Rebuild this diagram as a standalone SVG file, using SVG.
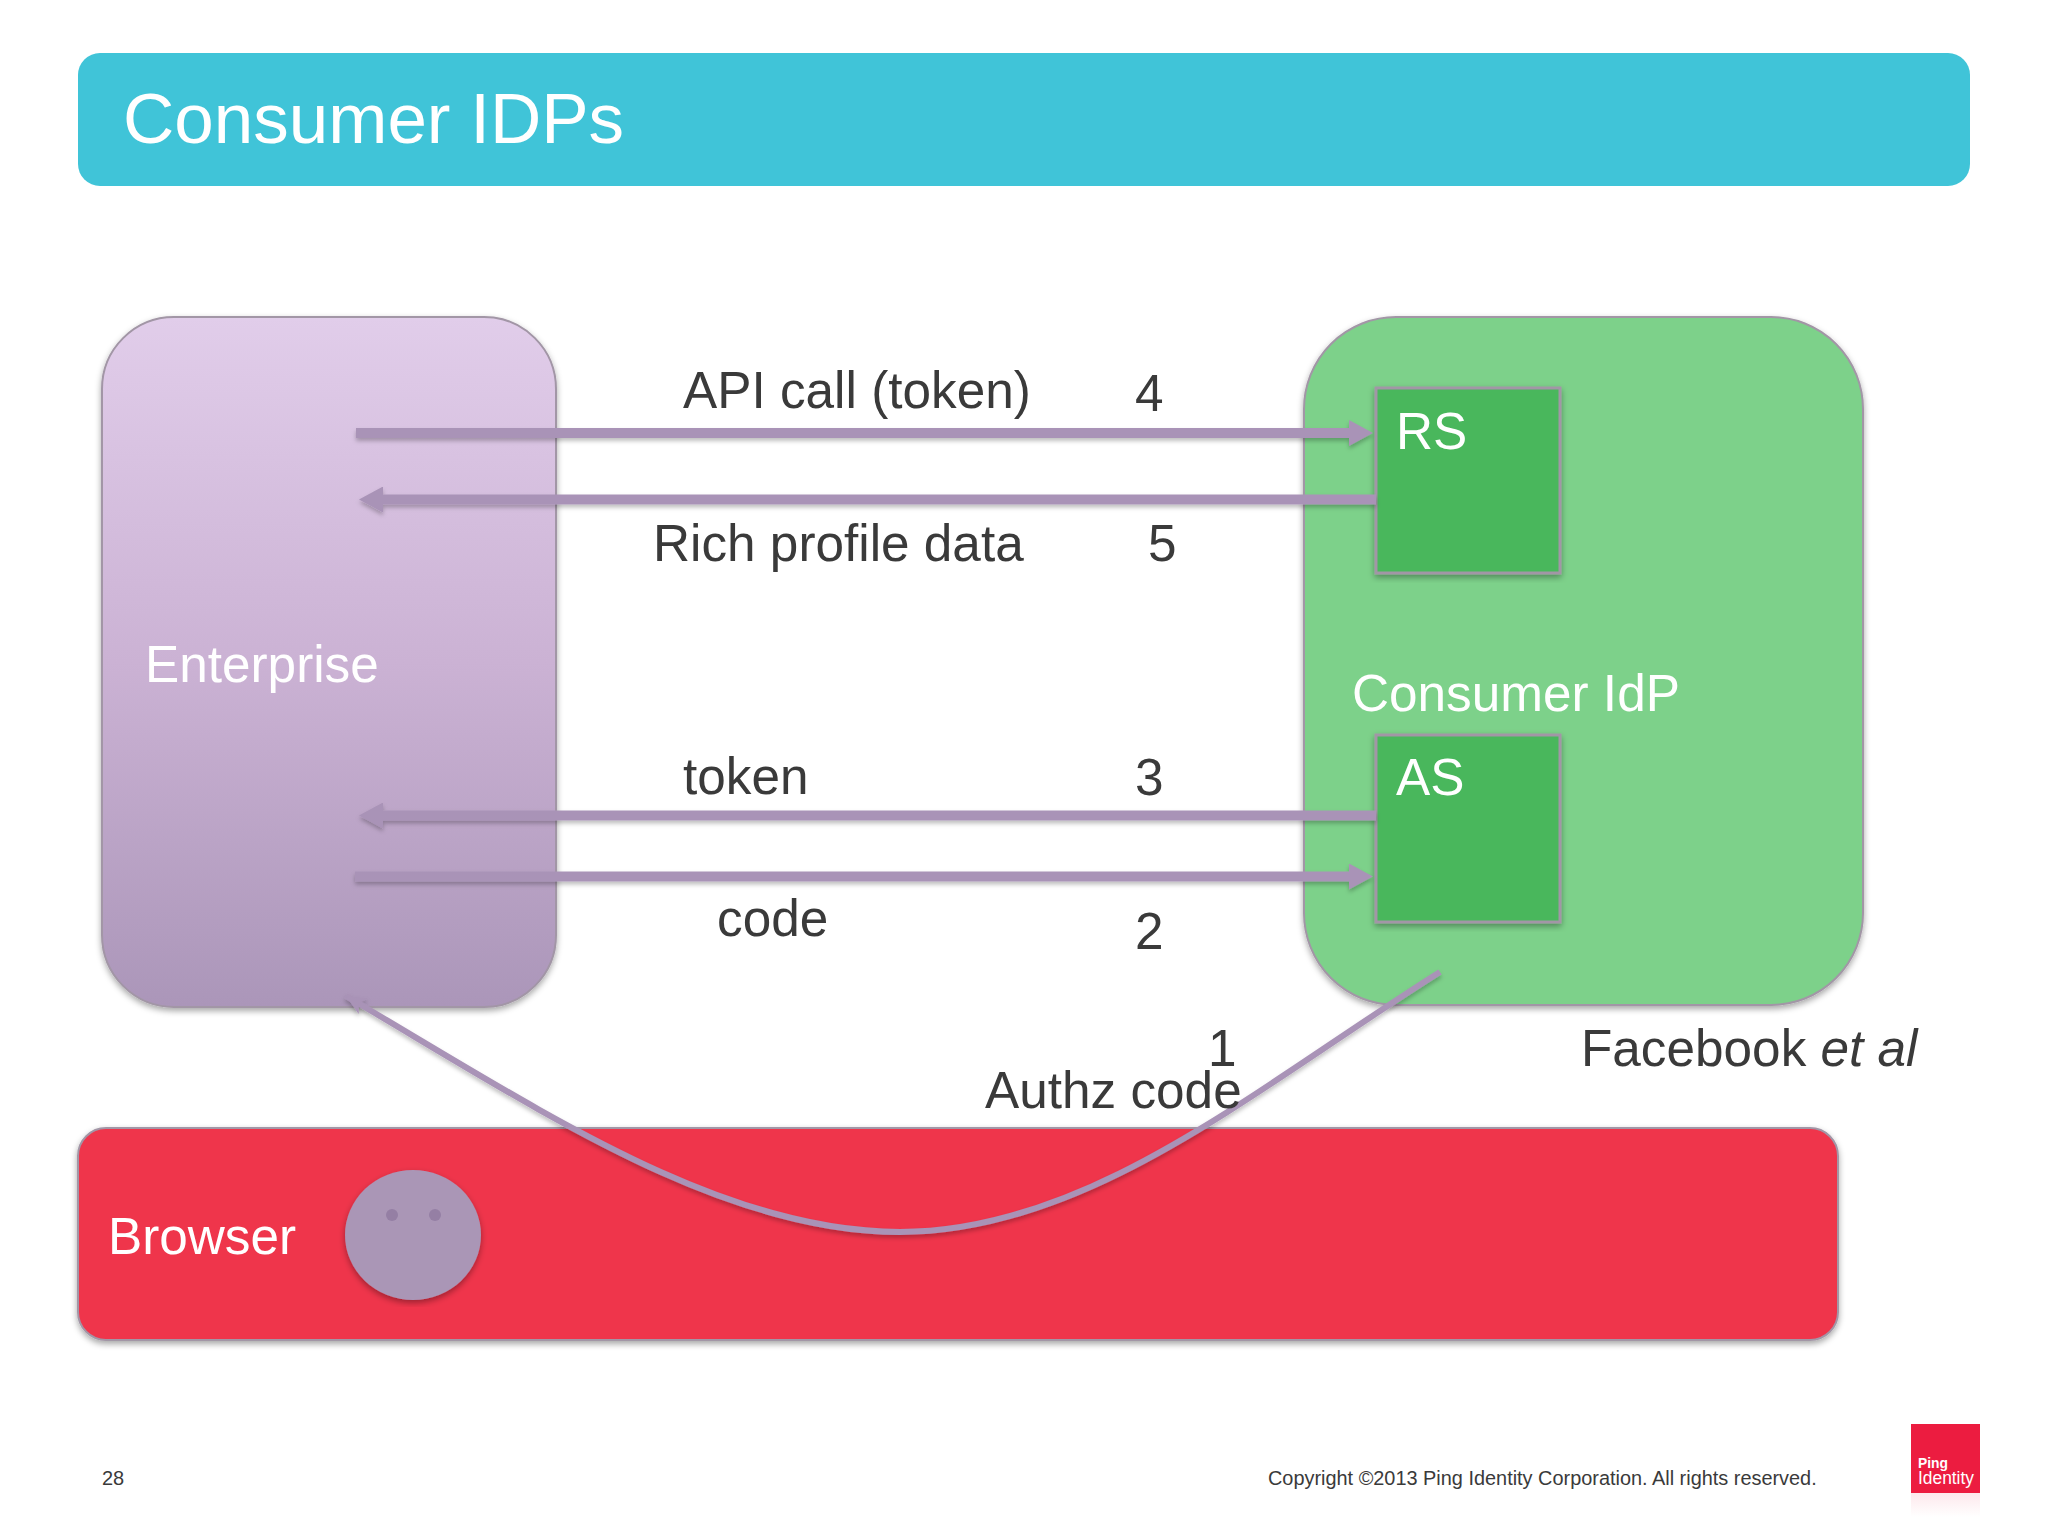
<svg xmlns="http://www.w3.org/2000/svg" width="2048" height="1536" viewBox="0 0 2048 1536">
<style>
text{font-family:"Liberation Sans",Arial,sans-serif}
.w{fill:#fff;font-size:51.3px}
.d{fill:#3a3a3a;font-size:51.3px}
.c{stroke:#a993b7;stroke-width:10;fill:none;filter:url(#ls)}
.b{stroke:#a296a6;stroke-width:3}
</style>
<defs>
<linearGradient id="ent" x1="0" y1="0" x2="0" y2="1"><stop offset="0" stop-color="#e1cdea"/><stop offset="0.5" stop-color="#cbb2d4"/><stop offset="1" stop-color="#ab96b9"/></linearGradient>
<filter id="sh" x="-5%" y="-5%" width="110%" height="110%"><feDropShadow dx="0" dy="3" stdDeviation="3" flood-color="#000" flood-opacity="0.35"/></filter>
<filter id="ls" filterUnits="userSpaceOnUse" x="0" y="0" width="2048" height="1536"><feDropShadow dx="0" dy="3" stdDeviation="2" flood-color="#000" flood-opacity="0.25"/></filter>
<marker id="a2" markerUnits="userSpaceOnUse" viewBox="0 0 24 26" refX="1" refY="13" markerWidth="24" markerHeight="26" orient="auto"><path d="M0 0L24 13L0 26Z" fill="#a993b7"/></marker>
<marker id="a3" markerUnits="userSpaceOnUse" viewBox="0 0 20 20" refX="20" refY="10" markerWidth="20" markerHeight="20" orient="auto"><path d="M0 1L20 10L0 19L5 10Z" fill="#a993b7"/></marker>
<linearGradient id="refl" x1="0" y1="0" x2="0" y2="1"><stop offset="0" stop-color="#ee1c42" stop-opacity="0.1"/><stop offset="1" stop-color="#ee1c42" stop-opacity="0"/></linearGradient>
</defs>
<rect width="2048" height="1536" fill="#fff"/>
<g id="header"><rect x="78" y="53" width="1892" height="133" rx="22" fill="#40c4d8"/><text x="123" y="143" fill="#fff" font-size="71">Consumer IDPs</text></g>
<g id="enterprise"><rect x="102" y="317" width="454" height="690" rx="72" fill="url(#ent)" stroke="#a296a6" stroke-width="2" filter="url(#sh)"/><text class="w" x="145" y="682">Enterprise</text></g>
<g id="consumer-idp"><rect x="1304" y="317" width="559" height="688" rx="92" fill="#7dd18a" stroke="#a296a6" stroke-width="2" filter="url(#sh)"/><text class="w" x="1352" y="711">Consumer IdP</text></g>
<g id="rs"><rect class="b" x="1376" y="388" width="184" height="185" fill="#49b75c" filter="url(#sh)"/><text class="w" x="1396" y="449">RS</text></g>
<g id="as"><rect class="b" x="1376" y="735" width="184" height="187" fill="#49b75c" filter="url(#sh)"/><text class="w" x="1396" y="795">AS</text></g>
<g id="browser"><rect x="78" y="1128" width="1760" height="212" rx="28" fill="#ef344c" stroke="#a296a6" stroke-width="2" filter="url(#sh)"/><text class="w" x="108" y="1254">Browser</text><ellipse cx="413" cy="1235" rx="68" ry="65" fill="#aa96b6" filter="url(#sh)"/><circle cx="392" cy="1215" r="6" fill="#957fa4"/><circle cx="435" cy="1215" r="6" fill="#957fa4"/></g>
<g id="connectors">
<path class="c" d="M356 433H1350" marker-end="url(#a2)"/>
<path class="c" d="M1376 499.500H382" marker-end="url(#a2)"/>
<path class="c" d="M1376 815.500H382" marker-end="url(#a2)"/>
<path class="c" d="M355 876.500H1350" marker-end="url(#a2)"/>
<path d="M1440 972C1260 1085 1090 1232 900 1232C720 1232 540 1110 346 996" fill="none" stroke="#a993b7" stroke-width="6" filter="url(#ls)" marker-end="url(#a3)"/>
</g>
<g id="labels">
<text class="d" x="683" y="408">API call (token)</text>
<text class="d" x="1135" y="411">4</text>
<text class="d" x="653" y="561">Rich profile data</text>
<text class="d" x="1148" y="561">5</text>
<text class="d" x="683" y="794">token</text>
<text class="d" x="1135" y="795">3</text>
<text class="d" x="717" y="936">code</text>
<text class="d" x="1135" y="949">2</text>
<text class="d" x="1208" y="1066">1</text>
<text class="d" x="985" y="1108">Authz code</text>
<text class="d" x="1581" y="1066">Facebook <tspan font-style="italic">et al</tspan></text>
<text x="102" y="1485" fill="#3a3a3a" font-size="20">28</text>
<text x="1268" y="1485" fill="#3a3a3a" font-size="19.900">Copyright ©2013 Ping Identity Corporation. All rights reserved.</text>
</g>
<g id="logo"><rect x="1911" y="1424" width="69" height="69" fill="#ec1c40"/><rect x="1911" y="1493" width="69" height="24" fill="url(#refl)"/><text x="1918" y="1468" fill="#fff" font-size="15" font-weight="bold" textLength="30" lengthAdjust="spacingAndGlyphs">Ping</text><text x="1918" y="1484" fill="#fff" font-size="18" textLength="56" lengthAdjust="spacingAndGlyphs">Identity</text></g>
</svg>
